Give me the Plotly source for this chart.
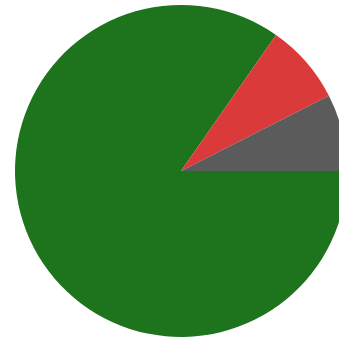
import plotly.graph_objects as go

labels = ["Green", "Red", "Gray"]
values = [84.7, 7.8, 7.5]
colors = ["#1d741d", "#db3a3a", "#5b5b5b"]

fig = go.Figure(go.Pie(
    labels=labels,
    values=values,
    sort=False,
    direction="clockwise",
    rotation=90,
    marker=dict(colors=colors, line=dict(width=0)),
    textinfo="none",
    hoverinfo="label+percent",
    showlegend=False,
))
fig.update_layout(
    width=362, height=338,
    margin=dict(l=15, r=15, t=5, b=1),
    paper_bgcolor="white", plot_bgcolor="white",
)
fig.write_html(
    "out.html",
    config={"displayModeBar": False},
    post_script="document.body.style.margin='0';document.body.style.overflow='hidden';",
)
